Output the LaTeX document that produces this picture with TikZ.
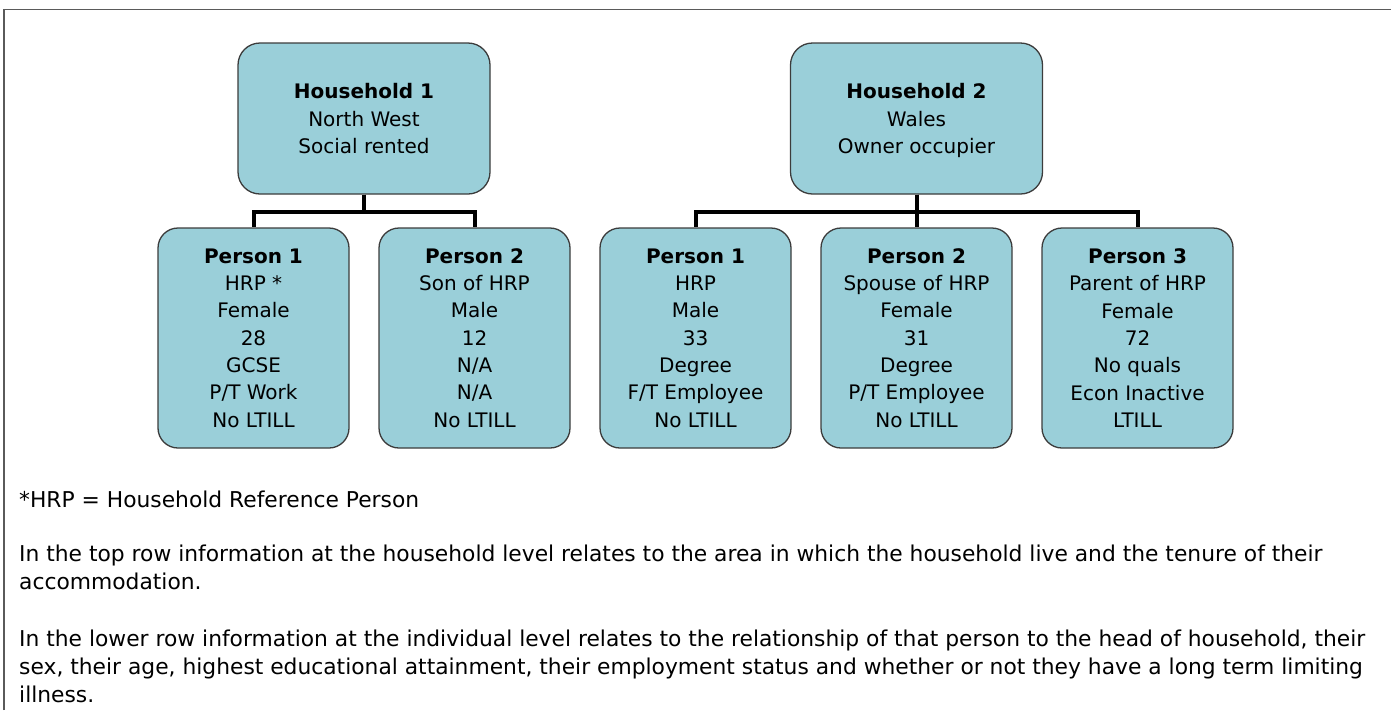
\documentclass[tikz,border=0pt]{standalone}
\usepackage{fontspec}
\setmainfont{DejaVu Sans}
\definecolor{boxfill}{RGB}{154,207,217}
\definecolor{boxline}{RGB}{60,60,60}
\definecolor{framegray}{RGB}{90,90,90}

\begin{document}
\begin{tikzpicture}[x=1pt, y=-1pt,
    cardbox/.style={draw=boxline, line width=1.3pt, fill=boxfill, inner sep=0pt,
      align=center, font=\fontsize{20}{27.3}\selectfont},
    hhbox/.style={cardbox, rounded corners=22pt, minimum width=252pt, minimum height=151pt,
      text depth=0pt, execute at begin node={\rule{0pt}{20pt}}},
    personbox/.style={cardbox, rounded corners=20pt, minimum width=191pt, minimum height=220pt},
    link/.style={line width=4pt, black},
    note/.style={anchor=base west, inner sep=0pt, align=left,
      font=\fontsize{21.8}{28}\selectfont}]
    \useasboundingbox (0,0) rectangle (1391,710);

    % Outer frame
    \draw[framegray, line width=1.5pt] (4,710) -- (4,9.5) -- (1391,9.5);

    % Households
    \node[hhbox] (hh1) at (364,118.5) {\textbf{Household 1}\\North West\\Social rented};
    \node[hhbox] (hh2) at (916.5,118.5) {\textbf{Household 2}\\Wales\\Owner occupier};

    % Persons of household 1
    \node[personbox] (p11) at (253.5,338) {\textbf{Person 1}\\HRP *\\Female\\28\\GCSE\\P/T Work\\No LTILL};
    \node[personbox] (p12) at (474.5,338) {\textbf{Person 2}\\Son of HRP\\Male\\12\\N/A\\N/A\\No LTILL};

    % Persons of household 2
    \node[personbox] (p21) at (695.5,338) {\textbf{Person 1}\\HRP\\Male\\33\\Degree\\F/T Employee\\No LTILL};
    \node[personbox] (p22) at (916.5,338) {\textbf{Person 2}\\Spouse of HRP\\Female\\31\\Degree\\P/T Employee\\No LTILL};
    \node[personbox] (p23) at (1137.5,338) {\textbf{Person 3}\\Parent of HRP\\Female\\72\\No quals\\Econ Inactive\\LTILL};

    % Tree links
    \draw[link] (hh1.south) -- ++(0,17) -| (p11.north);
    \draw[link] (hh1.south) -- ++(0,17) -| (p12.north);
    \draw[link] (hh2.south) -- ++(0,17) -| (p21.north);
    \draw[link] (hh2.south) -- (p22.north);
    \draw[link] (hh2.south) -- ++(0,17) -| (p23.north);

    % Notes (base = baseline of the last line)
    \node[note] (hrpnote) at (19,507) {*HRP = Household Reference Person};
    \node[note] (toprow) at (19,589) {In the top row information at the household level relates to the area in which the household live and the tenure of their\\accommodation.};
    \node[note] (lowrow) at (19,702) {In the lower row information at the individual level relates to the relationship of that person to the head of household, their\\sex, their age, highest educational attainment, their employment status and whether or not they have a long term limiting\\illness.};
\end{tikzpicture}
\end{document}
